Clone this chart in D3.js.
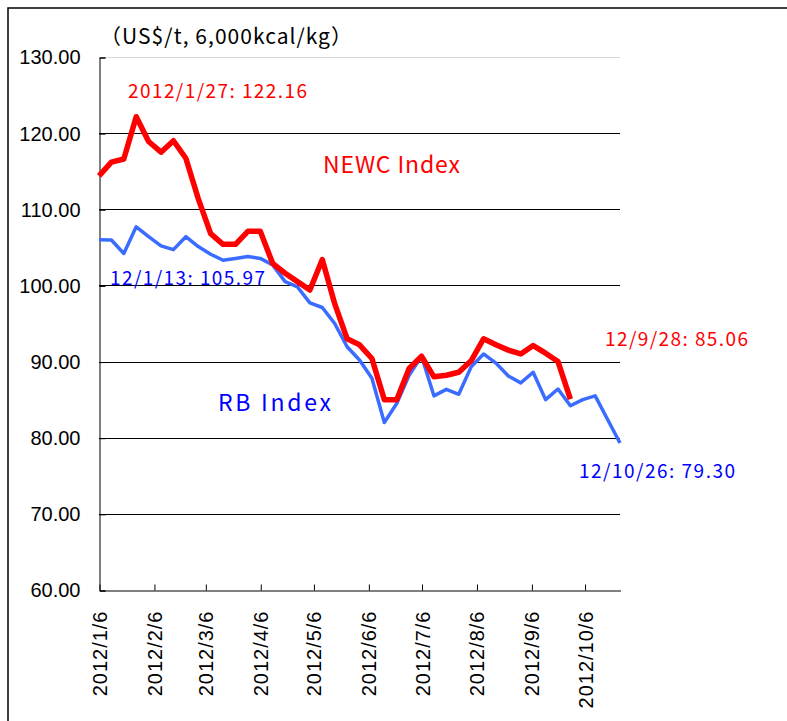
<!DOCTYPE html>
<html>
<head>
<meta charset="utf-8">
<script src="https://cdn.jsdelivr.net/npm/d3@7"></script>
<style>
  body { margin: 0; background: #fff; }
  svg { display: block; }
</style>
</head>
<body>
<div id="chart"></div>
<script>
// weekly dates (Fridays)
const dates = [
  "2012-01-06","2012-01-13","2012-01-20","2012-01-27","2012-02-03","2012-02-10","2012-02-17","2012-02-24",
  "2012-03-02","2012-03-09","2012-03-16","2012-03-23","2012-03-30","2012-04-06","2012-04-13","2012-04-20",
  "2012-04-27","2012-05-04","2012-05-11","2012-05-18","2012-05-25","2012-06-01","2012-06-08","2012-06-15",
  "2012-06-22","2012-06-29","2012-07-06","2012-07-13","2012-07-20","2012-07-27","2012-08-03","2012-08-10",
  "2012-08-17","2012-08-24","2012-08-31","2012-09-07","2012-09-14","2012-09-21","2012-09-28","2012-10-05",
  "2012-10-12","2012-10-19","2012-10-26"
];

// NEWC Index (ends 2012/9/28)
const newc = [
  114.4, 116.2, 116.6, 122.16, 118.9, 117.5, 119.0, 116.7,
  111.4, 106.8, 105.4, 105.4, 107.1, 107.1, 102.9, 101.6,
  100.5, 99.4, 103.4, 97.6, 93.0, 92.2, 90.4, 85.0,
  85.0, 89.1, 90.7, 88.0, 88.2, 88.6, 90.1, 93.0,
  92.2, 91.5, 91.0, 92.1, 91.1, 90.0, 85.06
];

// RB Index
const rb = [
  106.0, 105.97, 104.2, 107.7, 106.4, 105.2, 104.7, 106.4,
  105.1, 104.1, 103.3, 103.55, 103.8, 103.55, 102.7, 100.5,
  99.8, 97.7, 97.1, 95.0, 91.95, 90.2, 87.8, 82.0,
  84.5, 88.2, 90.7, 85.5, 86.35, 85.7, 89.3, 91.0,
  89.8, 88.1, 87.2, 88.6, 85.0, 86.4, 84.2, 85.0,
  85.5, 82.4, 79.30
];

const tickDates = ["2012-01-06","2012-02-06","2012-03-06","2012-04-06","2012-05-06",
  "2012-06-06","2012-07-06","2012-08-06","2012-09-06","2012-10-06"];
const yTicks = [60, 70, 80, 90, 100, 110, 120, 130];

const width = 787, height = 721;
const parse = d3.timeParse("%Y-%m-%d");
const fmtTick = d => `${d.getFullYear()}/${d.getMonth() + 1}/${d.getDate()}`;

const svg = d3.select("#chart").append("svg")
  .attr("width", width)
  .attr("height", height);

// outer frame
svg.append("rect")
  .attr("x", 8).attr("y", 8)
  .attr("width", 800).attr("height", 800)
  .attr("fill", "none")
  .attr("stroke", "#000")
  .attr("stroke-width", 1.5);

const x = d3.scaleTime()
  .domain([parse(dates[0]), parse(dates[dates.length - 1])])
  .range([99, 620]);
const y = d3.scaleLinear().domain([60, 130]).range([590, 57]);

// gridlines
svg.append("g").selectAll("line")
  .data(yTicks.filter(v => v > 60))
  .enter().append("line")
  .attr("x1", 99).attr("x2", 620)
  .attr("y1", d => Math.round(y(d)) + 0.5)
  .attr("y2", d => Math.round(y(d)) + 0.5)
  .attr("stroke", d => d === 130 ? "#d9d9d9" : "#000")
  .attr("stroke-width", 1);

// y axis
const yAxis = svg.append("g")
  .attr("transform", "translate(99.5,0.5)")
  .call(d3.axisLeft(y).tickValues(yTicks).tickSize(-6).tickPadding(19)
    .tickFormat(d3.format(".2f")));
yAxis.select(".domain").attr("stroke", "#000");
yAxis.selectAll(".tick line").attr("stroke", "#000");
yAxis.selectAll("text")
  .attr("font-family", "Liberation Sans, Arial, sans-serif")
  .attr("font-size", 20)
  .attr("fill", "#000");

// x axis
const xAxis = svg.append("g")
  .attr("transform", "translate(0.5,590.5)")
  .call(d3.axisBottom(x).tickValues(tickDates.map(parse)).tickSize(-6).tickSizeOuter(0)
    .tickFormat(fmtTick));
xAxis.select(".domain").attr("stroke", "#000");
xAxis.selectAll(".tick line").attr("stroke", "#000");
xAxis.selectAll("text")
  .attr("font-family", "Liberation Sans, Arial, sans-serif")
  .attr("font-size", 20)
  .attr("letter-spacing", 1)
  .attr("fill", "#000")
  .attr("transform", "rotate(-90)")
  .attr("text-anchor", "end")
  .attr("x", -20)
  .attr("y", 0)
  .attr("dy", "0.35em");

const line = d3.line()
  .x((d, i) => x(parse(dates[i])))
  .y(d => y(d));

svg.append("path")
  .datum(rb)
  .attr("fill", "none")
  .attr("stroke", "#3a6cff")
  .attr("stroke-width", 3.5)
  .attr("stroke-linejoin", "round")
  .attr("d", line);

svg.append("path")
  .datum(newc)
  .attr("fill", "none")
  .attr("stroke", "#ff0000")
  .attr("stroke-width", 5.5)
  .attr("stroke-linejoin", "round")
  .attr("d", line);

// texts
const jp = "Noto Sans CJK JP, sans-serif";
const labels = [
  { t: "（US$/t, 6,000kcal/kg）", x: 100, y: 44, c: "#000", s: 21, w: 252 },
  { t: "2012/1/27: 122.16", x: 128, y: 98, c: "#ff0000", s: 19, w: 179 },
  { t: "NEWC Index", x: 323, y: 173, c: "#ff0000", s: 23, w: 137 },
  { t: "12/1/13: 105.97", x: 110, y: 285, c: "#0000ff", s: 19, w: 155 },
  { t: "RB Index", x: 218, y: 411, c: "#0000ff", s: 23, w: 113 },
  { t: "12/9/28: 85.06", x: 605, y: 346, c: "#ff0000", s: 19, w: 143 },
  { t: "12/10/26: 79.30", x: 579, y: 478, c: "#0000ff", s: 19, w: 156 }
];
svg.append("g").selectAll("text")
  .data(labels)
  .enter().append("text")
  .attr("x", d => d.x).attr("y", d => d.y)
  .attr("fill", d => d.c)
  .attr("font-family", jp)
  .attr("font-size", d => d.s)
  .attr("textLength", d => d.w)
  .attr("lengthAdjust", "spacing")
  .text(d => d.t);
</script>
</body>
</html>
